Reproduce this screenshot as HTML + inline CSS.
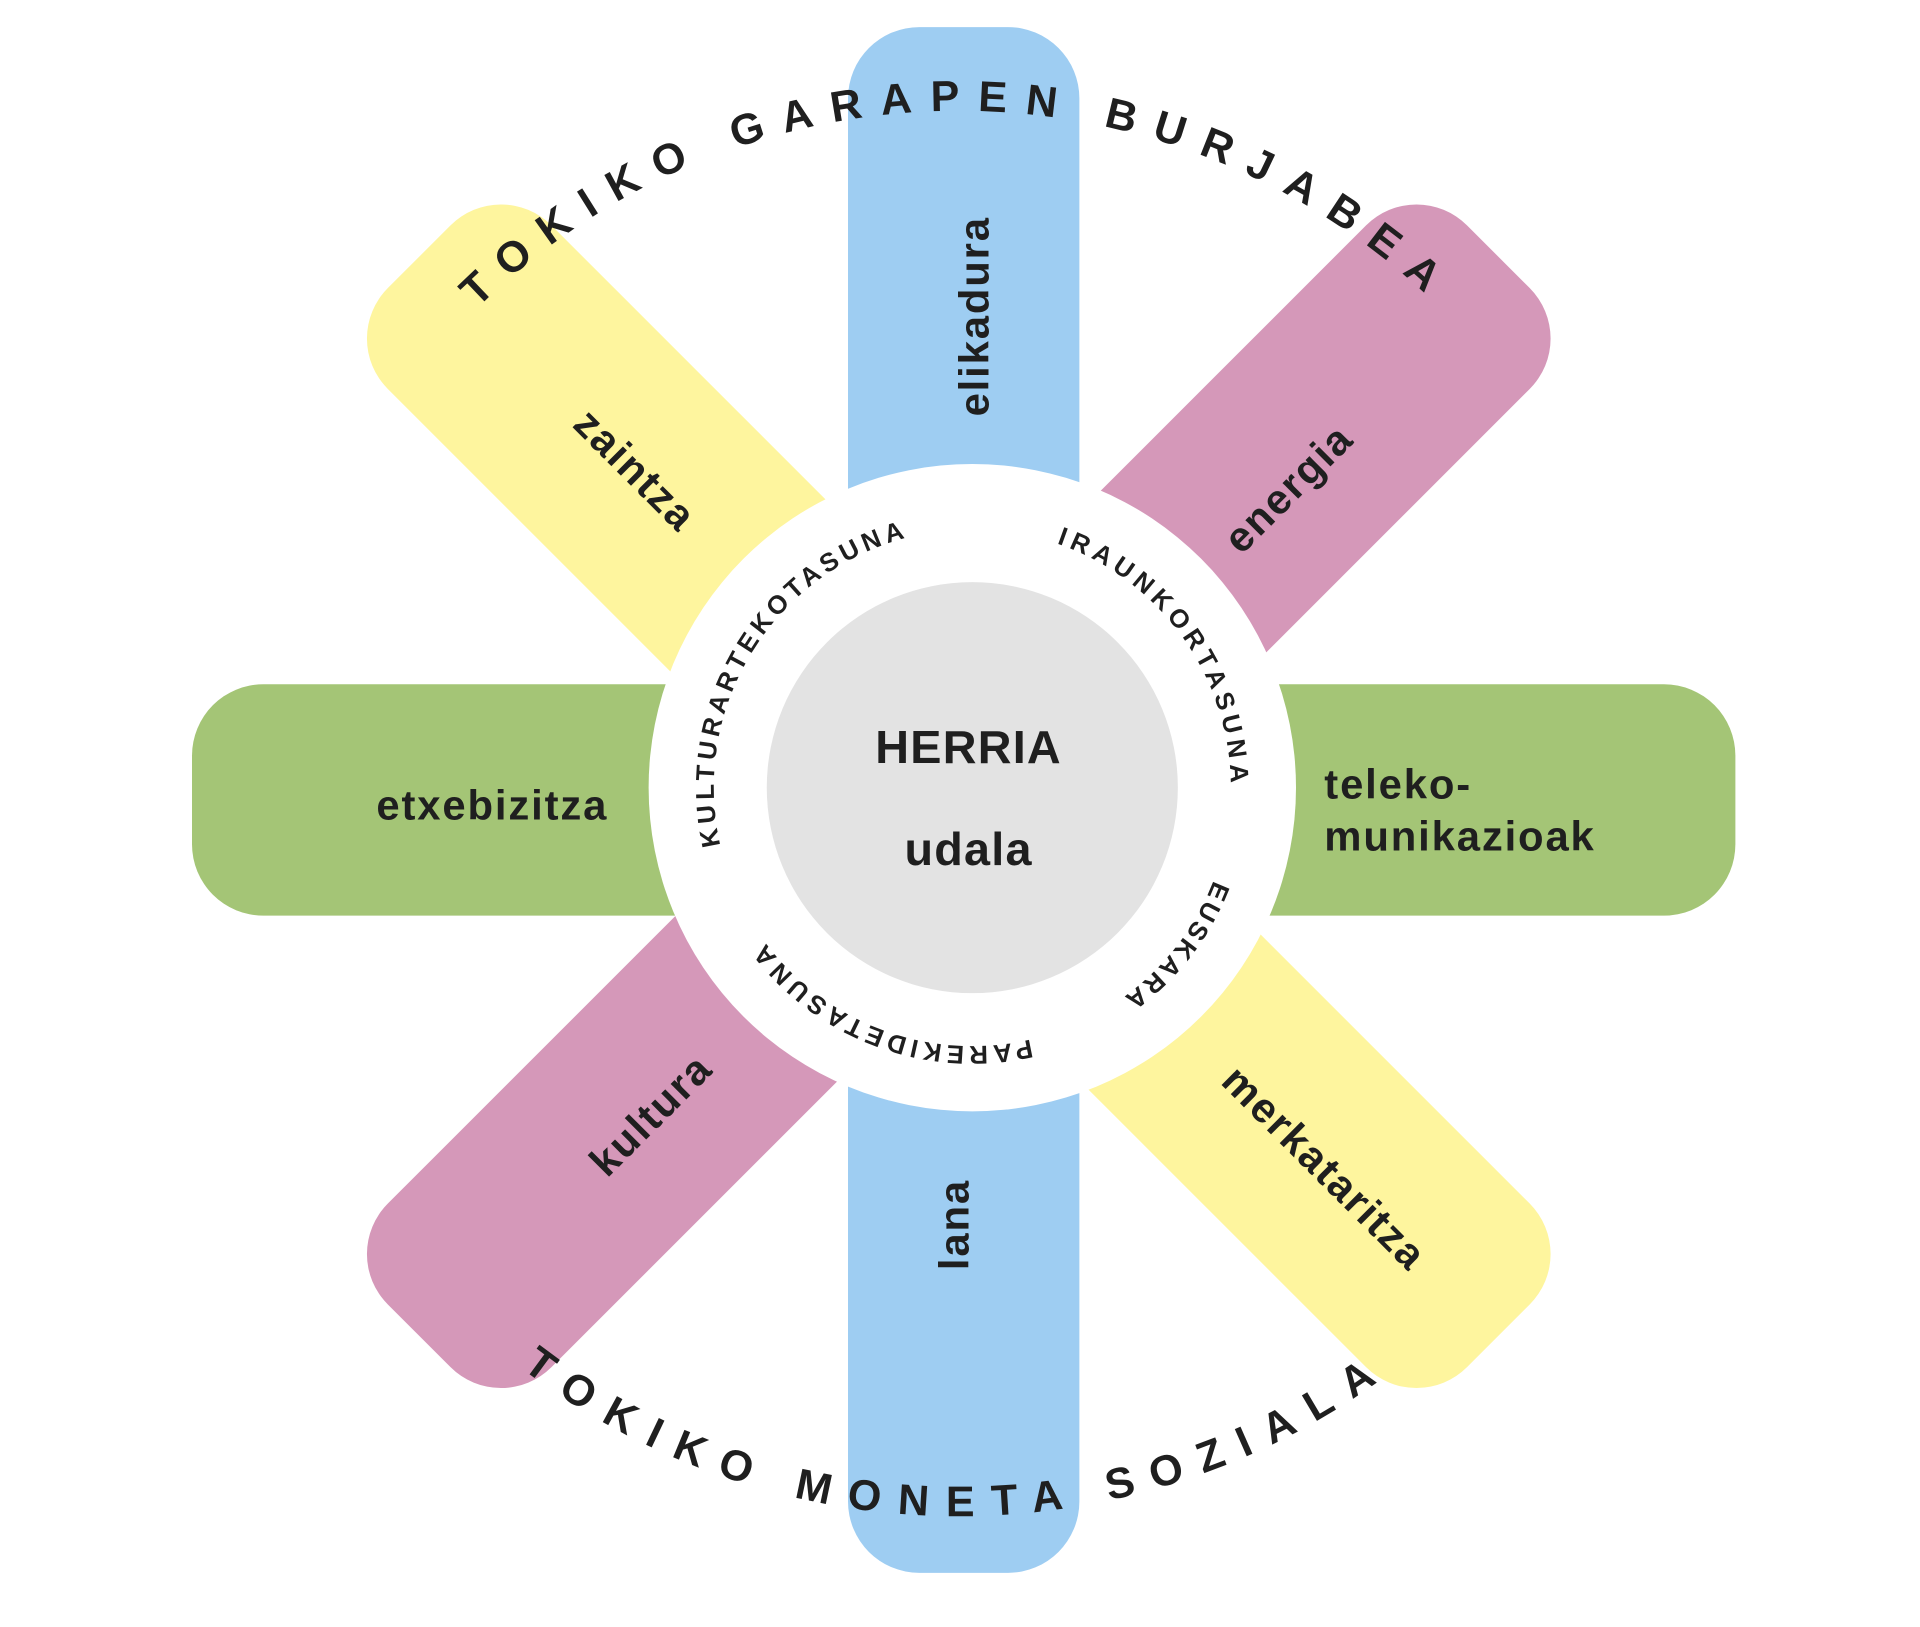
<!DOCTYPE html>
<html><head><meta charset="utf-8"><style>
html,body{margin:0;padding:0;background:#fff;}
svg{display:block;}
text{font-family:"Liberation Sans",sans-serif;font-weight:bold;fill:#1f1f1f;}
.lb{font-size:34px;letter-spacing:1.5px;}
</style></head><body>
<svg width="1920" height="1627" viewBox="0 0 1560 1322" preserveAspectRatio="none" xmlns="http://www.w3.org/2000/svg">
<defs>
<path id="kult" d="M608.1,745 A210,210 0 0 1 797.3,430.1"/>
<path id="iraun" d="M790,430 A210,210 0 0 1 989.7,704.9"/>
<path id="eusk" d="M996.8,676.5 A210,210 0 0 1 878.7,830.3"/>
<path id="parek" d="M861.8,837.3 A210,210 0 0 1 608.1,745"/>
<path id="otop" d="M226,650 A557,557 0 0 1 1340,650"/>
<path id="obot" d="M198,650 A585,585 0 0 0 1368,650"/>
</defs>
<g transform="translate(-4,-3)">
<g transform="rotate(45 783 650)"><rect x="163" y="556" width="1240" height="188" rx="58" fill="#fef59e"/></g>
<g transform="rotate(-45 783 650)"><rect x="163" y="556" width="1240" height="188" rx="58" fill="#d598b9"/></g>
<rect x="693" y="25" width="188" height="1256" rx="58" fill="#9ecdf2"/>
<rect x="160" y="559" width="1254" height="188" rx="58" fill="#a4c576"/>
<circle cx="794" cy="643" r="263" fill="#fff"/>
<circle cx="794" cy="643" r="167" fill="#e3e3e3"/>
<g transform="translate(4,3)">
<text x="787" y="620" font-size="38" letter-spacing="1" text-anchor="middle">HERRIA</text>
<text x="787" y="703" font-size="38" letter-spacing="1" text-anchor="middle">udala</text>
<text class="lb" x="400" y="666" text-anchor="middle">etxebizitza</text>
<text class="lb" x="1076" y="649">teleko-</text>
<text class="lb" x="1076" y="691">munikazioak</text>
<text class="lb" transform="translate(803,257) rotate(-90)" text-anchor="middle">elikadura</text>
<text class="lb" transform="translate(787,995) rotate(-90)" text-anchor="middle">lana</text>
<text class="lb" transform="translate(508,390) rotate(45)" text-anchor="middle">zaintza</text>
<text class="lb" transform="translate(1055,405) rotate(-45)" text-anchor="middle">energia</text>
<text class="lb" transform="translate(537,914) rotate(-45)" text-anchor="middle">kultura</text>
<text class="lb" transform="translate(1068,957) rotate(45)" text-anchor="middle">merkataritza</text>
<text font-size="21"><textPath href="#kult" startOffset="50%" text-anchor="middle" textLength="322" lengthAdjust="spacing">KULTURARTEKOTASUNA</textPath></text>
<text font-size="21"><textPath href="#iraun" startOffset="50%" text-anchor="middle" textLength="256" lengthAdjust="spacing">IRAUNKORTASUNA</textPath></text>
<text font-size="21"><textPath href="#eusk" startOffset="50%" text-anchor="middle" textLength="121" lengthAdjust="spacing">EUSKARA</textPath></text>
<text font-size="21"><textPath href="#parek" startOffset="50%" text-anchor="middle" textLength="242" lengthAdjust="spacing">PAREKIDETASUNA</textPath></text>
</g>
<text font-size="35"><textPath href="#otop" startOffset="49.5%" text-anchor="middle" textLength="850" lengthAdjust="spacing">TOKIKO GARAPEN BURJABEA</textPath></text>
<text font-size="35"><textPath href="#obot" startOffset="49.5%" text-anchor="middle" textLength="745" lengthAdjust="spacing">TOKIKO MONETA SOZIALA</textPath></text>
</g>
</svg>
</body></html>
